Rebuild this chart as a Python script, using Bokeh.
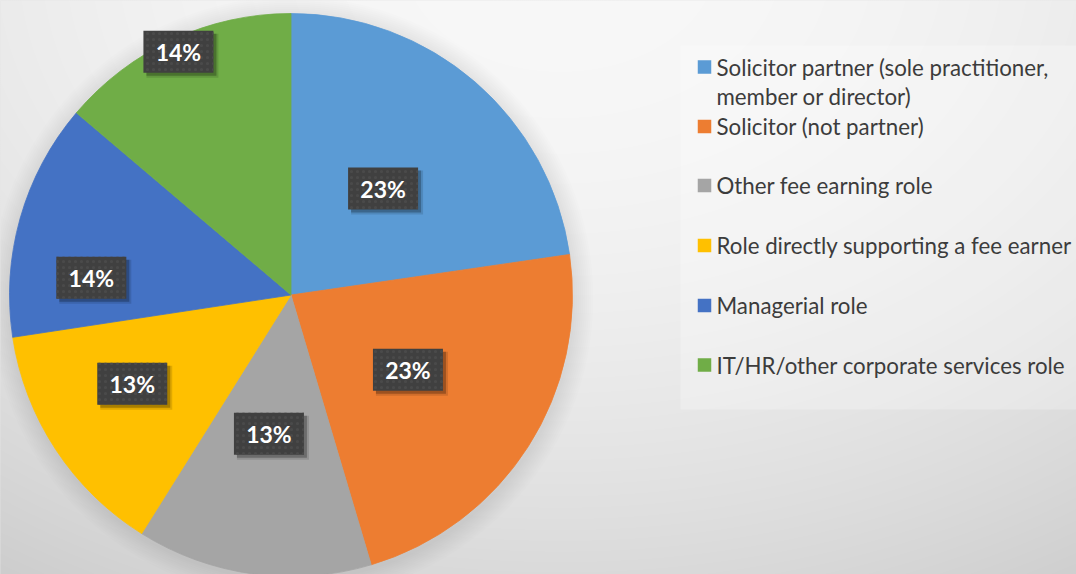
import numpy as np
from bokeh.plotting import figure
from bokeh.models import Range1d, GlobalInlineStyleSheet
from bokeh.core.properties import value
from bokeh.embed import file_html
from bokeh.resources import INLINE

# ---------------- data ----------------
categories = [
    "Solicitor partner (sole practitioner, member or director)",
    "Solicitor (not partner)",
    "Other fee earning role",
    "Role directly supporting a fee earner",
    "Managerial role",
    "IT/HR/other corporate services role",
]
legend_lines = [
    ["Solicitor partner (sole practitioner,", "member or director)"],
    ["Solicitor (not partner)"],
    ["Other fee earning role"],
    ["Role directly supporting a fee earner"],
    ["Managerial role"],
    ["IT/HR/other corporate services role"],
]
values = [22.7, 22.7, 13.5, 13.7, 13.6, 13.8]
labels = ["23%", "23%", "13%", "13%", "14%", "14%"]
colors = ["#5B9BD5", "#ED7D31", "#A5A5A5", "#FFC000", "#4472C4", "#70AD47"]

# ---------------- layout (reference pixel coords) ----------------
W, H = 1076, 574
def Y(py):
    return H - py

CX, CY, R = 290.5, 294.5, 281.5
label_angle_shift = [0, 0, 1.3, 4.1, -10.9, 0]      # degrees
label_radius_frac = [0.50, 0.493, 0.499, 0.646, 0.712, 0.952]
legend_rows = [66.5, 126, 185, 245, 305, 364.5]
legend_line_gap = 29.5

css = ("html,body{margin:0;padding:0;overflow:hidden;"
       "background: radial-gradient(ellipse 1120px 800px at 560px -40px, "
       "rgb(248,248,248) 0%, rgb(245,245,245) 25%, rgb(235,235,235) 50%, "
       "rgb(219,219,219) 75%, rgb(197,197,197) 100%) fixed;}")

p = figure(width=W, height=H, x_range=Range1d(0, W), y_range=Range1d(0, H),
           output_backend="svg", toolbar_location=None, min_border=0,
           x_axis_type=None, y_axis_type=None)
p.grid.visible = False
p.outline_line_color = None
p.background_fill_color = "#e6e6e6"
p.border_fill_color = "#e6e6e6"
p.stylesheets = [GlobalInlineStyleSheet(css=css)]

# background gradient
rows = np.arange(H)
cols = np.arange(W)
py = H - rows - 0.5
px = cols + 0.5
PX, PY = np.meshgrid(px, py)
d2 = ((PX - 560) / 1.4) ** 2 + (PY + 40) ** 2
v = np.clip(248 - 8e-5 * d2, 190, 250).astype(np.uint32)
img = (np.uint32(255) << 24) | (v << 16) | (v << 8) | v
p.image_rgba(image=[img.astype(np.uint32)], x=0, y=0, dw=W, dh=H)

# legend panel
p.quad(left=680, right=W + 5, top=Y(45), bottom=Y(409), fill_color="white",
       fill_alpha=0.25, line_color=None)

# pie soft shadow
for i in range(10):
    p.circle(x=CX + 1, y=Y(CY) - 3, radius=R + 2 * (i + 1), fill_color="black",
             fill_alpha=0.007, line_color=None)

# pie
fr = np.array(values) / sum(values)
ends = np.cumsum(fr) * 2 * np.pi
starts = np.concatenate([[0], ends[:-1]])
p.wedge(x=CX, y=Y(CY), radius=R,
        start_angle=list(np.pi / 2 - starts), end_angle=list(np.pi / 2 - ends),
        direction="clock", fill_color=colors, line_color=colors, line_width=0.8)

# data labels
mids = (starts + ends) / 2 + np.radians(label_angle_shift)
lx = CX + np.array(label_radius_frac) * R * np.sin(mids)
ly = Y(CY) + np.array(label_radius_frac) * R * np.cos(mids)
bw, bh = 70, 42
p.rect(x=list(lx + 4), y=list(ly - 4), width=bw + 2, height=bh + 2, fill_color="black",
       fill_alpha=0.12, line_color=None)
p.rect(x=list(lx + 3), y=list(ly - 3), width=bw, height=bh, fill_color="black",
       fill_alpha=0.25, line_color=None)
p.rect(x=list(lx), y=list(ly), width=bw, height=bh, fill_color="#404040",
       line_color=None, hatch_pattern="dot", hatch_color="#4a4a4a",
       hatch_scale=6, hatch_weight=1)
p.text(x=list(lx), y=list(ly), text=labels, text_color="white",
       text_font=value("Lato"), text_font_style="bold", text_font_size="23px",
       text_align="center", text_baseline="middle")

# legend
sq = 13.5
p.rect(x=[704] * 6, y=[Y(r) for r in legend_rows], width=sq, height=sq,
       fill_color=colors, line_color=None)
tx, ty, tt = [], [], []
for r, lines in zip(legend_rows, legend_lines):
    for k, line in enumerate(lines):
        tx.append(716)
        ty.append(Y(r + k * legend_line_gap))
        tt.append(line)
p.text(x=tx, y=ty, text=tt, text_color="#3c3c3c", text_font=value("Lato"),
       text_font_size="22.3px", text_align="left", text_baseline="middle")

open("out.html", "w").write(file_html(p, INLINE))
